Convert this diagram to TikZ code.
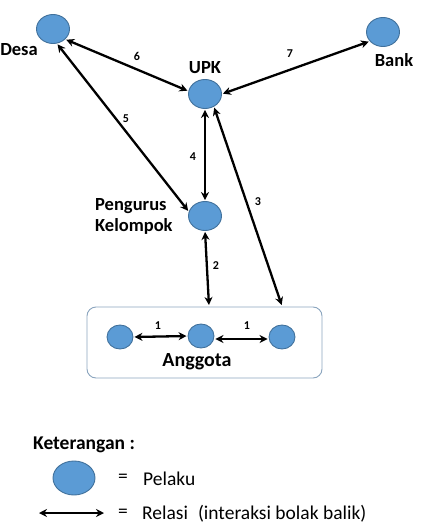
\documentclass[tikz,border=0pt]{standalone}
\usepackage{fontspec}
\setmainfont{Carlito}
\usetikzlibrary{shapes.geometric,arrows.meta}
\definecolor{pfill}{HTML}{5B9BD5}
\definecolor{pdraw}{HTML}{41719C}
\definecolor{boxdraw}{HTML}{8AA4BE}
\tikzset{
  pelaku/.style={ellipse,fill=pfill,draw=pdraw,line width=0.9pt,minimum width=33pt,minimum height=29pt,inner sep=0pt},
  small/.style={ellipse,fill=pfill,draw=pdraw,line width=0.9pt,minimum width=26pt,minimum height=24pt,inner sep=0pt},
  rel/.style={line width=2.3pt,{Stealth[length=8pt,width=8pt]}-{Stealth[length=8pt,width=8pt]},shorten <=1pt,shorten >=1pt},
  lab/.style={font=\fontsize{18.5}{21}\selectfont\bfseries,inner sep=0pt},
  num/.style={font=\fontsize{12}{14}\selectfont\bfseries,inner sep=0pt},
  txt/.style={font=\fontsize{19.5}{21}\selectfont,inner sep=0pt},
}
\begin{document}
\begin{tikzpicture}[x=1pt,y=-1pt]
\useasboundingbox (0,0) rectangle (422,524);
% box
\node[draw=boxdraw,line width=0.9pt,rounded corners=9pt,minimum width=235pt,minimum height=71pt,inner sep=0pt] (box) at (204.5,342.5) {};
% actors
\node[pelaku] (desa) at (53,29) {};
\node[pelaku] (bank) at (383,32) {};
\node[pelaku] (upk) at (205,94) {};
\node[pelaku] (peng) at (205,216) {};
\node[small] (a1) at (120,337) {};
\node[small] (a2) at (201,336) {};
\node[small] (a3) at (282,337) {};
% labels
\node[lab] (ldesa) at (19,50) {Desa};
\node[lab] (lbank) at (394,60) {Bank};
\node[lab] (lupk) at (205,68) {UPK};
\node[lab,align=left,anchor=west] (lpeng) at (95,216) {Pengurus\\Kelompok};
\node[lab,font=\fontsize{20}{22}\selectfont\bfseries] (lang) at (197,362) {Anggota};
% connection points on box
\coordinate (b2) at (209,306);
\coordinate (b3) at (282,306);
% relations
\draw[rel] (desa.-40) -- (upk.170);
\draw[rel] (upk.east) -- (bank.-145);
\draw[rel] (desa.-75) -- (peng.165);
\draw[rel] (upk.south) -- (peng.north);
\draw[rel] (upk.-55) -- (b3);
\draw[rel] (peng.south) -- (b2);
\draw[rel] (a1.east) -- (a2.west);
\draw[rel] ([yshift=-3pt]a2.east) -- ([yshift=-2pt]a3.west);
% numbers
\node[num] (n1a) at (158,326) {1};
\node[num] (n1b) at (247,326) {1};
\node[num] (n2) at (216,266) {2};
\node[num] (n3) at (258,202) {3};
\node[num] (n4) at (193,157) {4};
\node[num] (n5) at (126,119) {5};
\node[num] (n6) at (137,56) {6};
\node[num] (n7) at (290,54) {7};
% legend
\node[lab,font=\fontsize{19.5}{21}\selectfont\bfseries,anchor=west] (ket) at (33,445) {Keterangan :};
\node[pelaku,minimum width=42pt,minimum height=34pt] (leg) at (74,478) {};
\node[txt] (eq1) at (123,478) {=};
\node[txt,anchor=west] (pel) at (143,479) {Pelaku};
\coordinate (l1) at (38,513);
\coordinate (l2) at (105,513);
\draw[rel] (l1) -- (l2);
\node[txt] (eq2) at (123,513) {=};
\node[txt,anchor=west] (relasi) at (142,514) {Relasi\hspace{10pt}(interaksi bolak balik)};
\end{tikzpicture}
\end{document}
